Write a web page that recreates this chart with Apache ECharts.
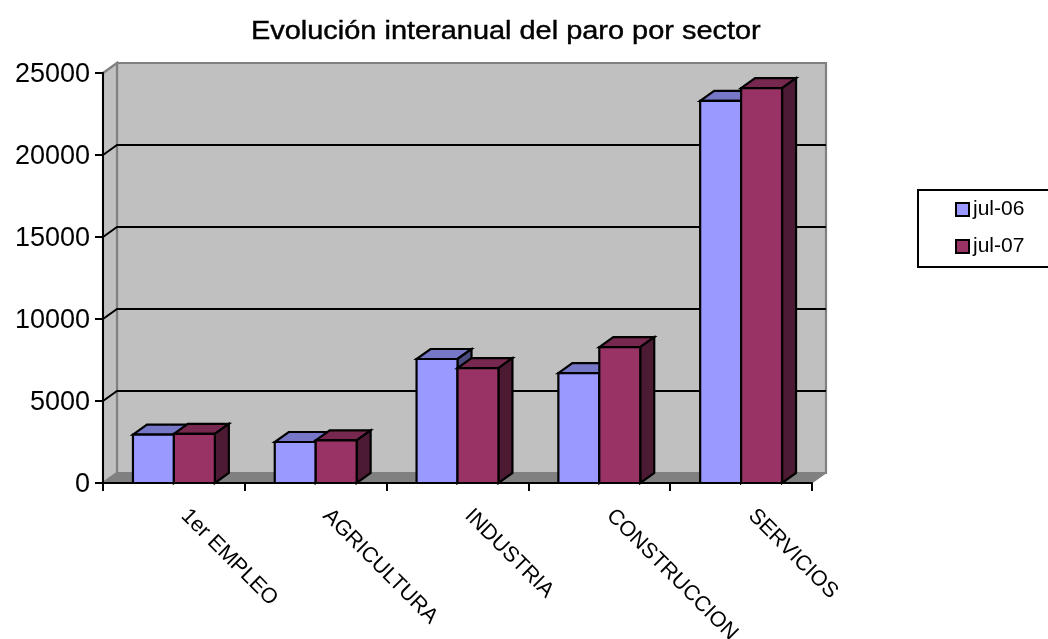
<!DOCTYPE html>
<html><head><meta charset="utf-8">
<style>html,body{margin:0;padding:0;background:#fff;overflow:hidden}#c{width:1048px;height:639px}</style>
<script src="https://cdn.jsdelivr.net/npm/echarts@6/dist/echarts.min.js"></script>
</head><body><div id="c"></div>
<script>
const titleText = 'Evolución interanual del paro por sector';
const categories = ['1er EMPLEO','AGRICULTURA','INDUSTRIA','CONSTRUCCION','SERVICIOS'];
const jul06 = [2950, 2500, 7560, 6700, 23300];
const jul07 = [3000, 2600, 7010, 8290, 24080];
const yTicks = [0, 5000, 10000, 15000, 20000, 25000];
const seriesNames = ['jul-06', 'jul-07'];
const DX = 14, DY = 10, BAR_FRAC = 41 / 142;
const FONT = '"Liberation Sans", Arial, sans-serif';
const colors = [
  {front:'#9999FF', top:'#7777C8', side:'#4C4C80'},
  {front:'#993366', top:'#77284F', side:'#4D1A33'}
];
const chart = echarts.init(document.getElementById('c'), null, {renderer:'canvas'});

function poly(points, fill, stroke, lw){
  return {type:'polygon', shape:{points}, style:{fill, stroke, lineWidth:lw, lineJoin:'miter'}};
}
function wallRender(params, api){
  const band = api.size([1,0])[0];
  const first = api.coord([0,0]), top = api.coord([0,25000]);
  const x0 = first[0] - band/2, x1 = x0 + band*categories.length;
  const y0 = first[1], y1 = top[1];
  const grey = '#808080';
  const kids = [
    poly([[x0+DX,y1-DY],[x1+DX,y1-DY],[x1+DX,y0-DY],[x0+DX,y0-DY]], '#C0C0C0', grey, 2.2),
    poly([[x0,y1],[x0+DX,y1-DY],[x0+DX,y0-DY],[x0,y0]], '#C0C0C0', grey, 2.2),
    poly([[x0,y0],[x1,y0],[x1+DX,y0-DY],[x0+DX,y0-DY]], grey, grey, 1)
  ];
  yTicks.slice(1,-1).forEach(v=>{
    const y = api.coord([0,v])[1];
    kids.push({type:'polyline', shape:{points:[[x0,y],[x0+DX,y-DY],[x1+DX,y-DY]]},
      style:{fill:null, stroke:'#000', lineWidth:2}});
  });
  return {type:'group', children:kids};
}
function barRender(si){
  return function(params, api){
    const cat = api.value(0), val = api.value(1);
    const band = api.size([1,0])[0], w = band*BAR_FRAC;
    const c = api.coord([cat,val]), b = api.coord([cat,0]);
    const xl = c[0] + (si-1)*w, xr = xl + w, yt = c[1], yb = b[1];
    const col = colors[si], lw = 2.2, k = '#000';
    return {type:'group', children:[
      poly([[xl,yt],[xr,yt],[xr+DX,yt-DY],[xl+DX,yt-DY]], col.top, k, lw),
      poly([[xr,yt],[xr+DX,yt-DY],[xr+DX,yb-DY],[xr,yb]], col.side, k, lw),
      poly([[xl,yt],[xr,yt],[xr,yb],[xl,yb]], col.front, k, lw)
    ]};
  };
}
chart.setOption({
  animation:false,
  backgroundColor:'#fff',
  graphic:[{type:'text', x:251, y:20, scaleX:1.157, z:10,
    style:{text:titleText, font:'25px '+FONT, fill:'#000', stroke:'#000', lineWidth:0.4}}],
  legend:{orient:'vertical', left:918, top:190, padding:[9,40,10,37], itemGap:16,
    itemWidth:13, itemHeight:13, borderColor:'#000', borderWidth:2, backgroundColor:'#fff',
    textStyle:{fontFamily:FONT, fontSize:21, color:'#000', padding:[0,0,0,-1]},
    data:seriesNames.map((n,i)=>({name:n, icon:'rect',
      itemStyle:{color:colors[i].front, borderColor:'#000', borderWidth:2}}))},
  grid:{left:103, right:236, top:73, bottom:156, containLabel:false, outerBoundsMode:'none'},
  xAxis:{type:'category', data:categories, z:2,
    axisLine:{lineStyle:{color:'#000', width:2}},
    axisTick:{show:true, alignWithLabel:false, length:8, lineStyle:{color:'#000', width:2}},
    axisLabel:{rotate:-45, interval:0, margin:19, padding:[0,0,0,15], fontFamily:FONT, fontSize:21.5, color:'#000'},
    splitLine:{show:false}},
  yAxis:{type:'value', min:0, max:25000, interval:5000, z:2,
    axisLine:{show:true, lineStyle:{color:'#000', width:2}},
    axisTick:{show:true, length:8, lineStyle:{color:'#000', width:2}},
    axisLabel:{margin:13, verticalAlign:'top', lineHeight:4, fontFamily:FONT, fontSize:27, color:'#000', formatter:v=>String(v)},
    splitLine:{show:false}},
  series:[
    {type:'custom', name:'wall', silent:true, z:1, renderItem:wallRender, data:[[0,0]],
      encode:{x:0,y:1}, clip:false},
    {type:'custom', name:seriesNames[0], z:3, renderItem:barRender(0),
      data:categories.map((c,i)=>[i,jul06[i]]), encode:{x:0,y:1}, clip:false,
      itemStyle:{color:colors[0].front}},
    {type:'custom', name:seriesNames[1], z:4, renderItem:barRender(1),
      data:categories.map((c,i)=>[i,jul07[i]]), encode:{x:0,y:1}, clip:false,
      itemStyle:{color:colors[1].front}}
  ]
});
</script></body></html>
